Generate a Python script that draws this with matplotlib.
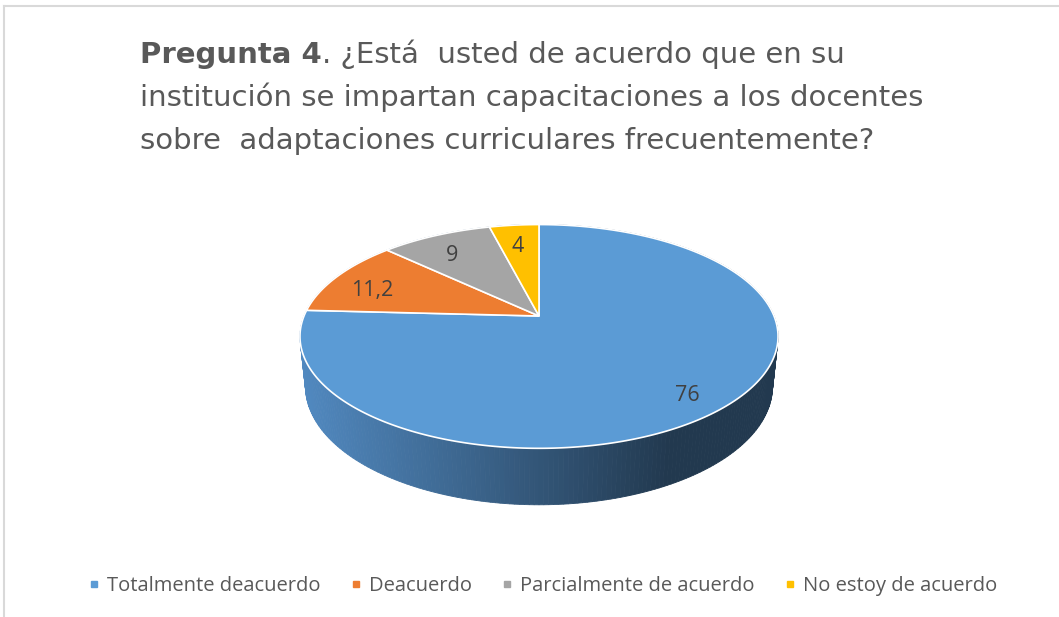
import numpy as np
import matplotlib.pyplot as plt
from matplotlib.patches import Polygon
from matplotlib.lines import Line2D
import matplotlib.colors as mcolors

# data
categories = ["Totalmente deacuerdo", "Deacuerdo", "Parcialmente de acuerdo", "No estoy de acuerdo"]
values = [76, 11.2, 9, 4]
value_labels = ["76", "11,2", "9", "4"]
colors = ["#5b9bd5", "#ed7d31", "#a5a5a5", "#ffc000"]

title_bold = "Pregunta 4"
title_rest = ". ¿Está  usted de acuerdo que en su"
title_line2 = "institución se impartan capacitaciones a los docentes"
title_line3 = "sobre  adaptaciones curriculares frecuentemente?"

FONT = "Open Sans"
TFONT = "DejaVu Sans"
TXT = "#595959"

fig = plt.figure(figsize=(10.59, 6.17), dpi=100)
ax = fig.add_axes([0, 0, 1, 1])
ax.set_xlim(0, 1059)
ax.set_ylim(617, 0)
ax.axis("off")

# frame lines (chart area border, partly cropped)
ax.plot([4, 1059], [6, 6], color="#d9d9d9", lw=1.5)
ax.plot([4, 4], [6, 617], color="#d9d9d9", lw=1.5)

# 3d pie projection
cx, cy, s = 539, 316, 235
tilt = np.radians(27.4)
D = 4.86
h = 0.242


def proj(theta, r, z):
    X = r * np.cos(theta)
    Y = r * np.sin(theta)
    v = Y * np.sin(tilt) + z * np.cos(tilt)
    w = D + Y * np.cos(tilt) - z * np.sin(tilt)
    return cx + s * X * D / w, cy - s * v * D / w


# side wall, drawn back to front with a horizontal shade
light = np.array(mcolors.to_rgb("#5189c0"))
dark = np.array(mcolors.to_rgb("#22394f"))
th = np.linspace(0, 2 * np.pi, 361)
strips = []
for i in range(len(th) - 1):
    t0, t1 = th[i], th[i + 1]
    xa, ya = proj(t0, 1, 0)
    xb, yb = proj(t1, 1, 0)
    xc, yc = proj(t1, 1, -h)
    xd, yd = proj(t0, 1, -h)
    depth = np.sin((t0 + t1) / 2)
    strips.append((depth, [(xa, ya), (xb, yb), (xc, yc), (xd, yd)]))
strips.sort(key=lambda p: -p[0])
for depth, pts in strips:
    xm = np.mean([p[0] for p in pts])
    f = min(1.0, max(0.0, (xm - (cx - s)) / (1.55 * s)))
    c = light + (dark - light) * f
    ax.add_patch(Polygon(pts, closed=True, facecolor=c, edgecolor=c, lw=0.6))

# top face wedges, clockwise from 12 o'clock
total = sum(values)
start = 90.0
for val, col, lab in zip(values, colors, value_labels):
    span = 360.0 * val / total
    end = start - span
    angs = np.radians(np.linspace(start, end, max(int(span), 2) * 2))
    xs, ys = proj(angs, 1, 0)
    cx0, cy0 = proj(0.0, 0, 0)
    pts = [(cx0, cy0)] + list(zip(xs, ys))
    ax.add_patch(Polygon(pts, closed=True, facecolor=col, edgecolor="white", lw=1.2, zorder=3))
    mid = np.radians((start + end) / 2)
    lx, ly = proj(mid, 0.82, 0)
    ax.text(lx, ly + 7, lab, ha="center", va="center", fontsize=15.5, color="#404040",
            family=FONT, zorder=4)
    start = end

# title
t1 = ax.text(140, 63, title_bold, fontsize=21, fontweight="bold", color=TXT,
             family=TFONT, va="baseline", ha="left")
ax.annotate(title_rest, xy=(1, 0), xycoords=t1, fontsize=21, color=TXT,
            family=TFONT, va="bottom", ha="left")
ax.text(140, 106, title_line2, fontsize=21, color=TXT, family=TFONT, va="baseline")
ax.text(140, 149, title_line3, fontsize=21, color=TXT, family=TFONT, va="baseline")

# legend
handles = [Line2D([], [], marker="s", ls="", markersize=5, color=c) for c in colors]
fig.legend(handles, categories, loc="center", bbox_to_anchor=(0.513, 0.05), ncol=4,
           frameon=False, handlelength=0.5, handletextpad=0.4, columnspacing=1.5,
           prop={"family": FONT, "size": 14.5}, labelcolor=TXT)

fig.savefig("out.png", dpi=100)
